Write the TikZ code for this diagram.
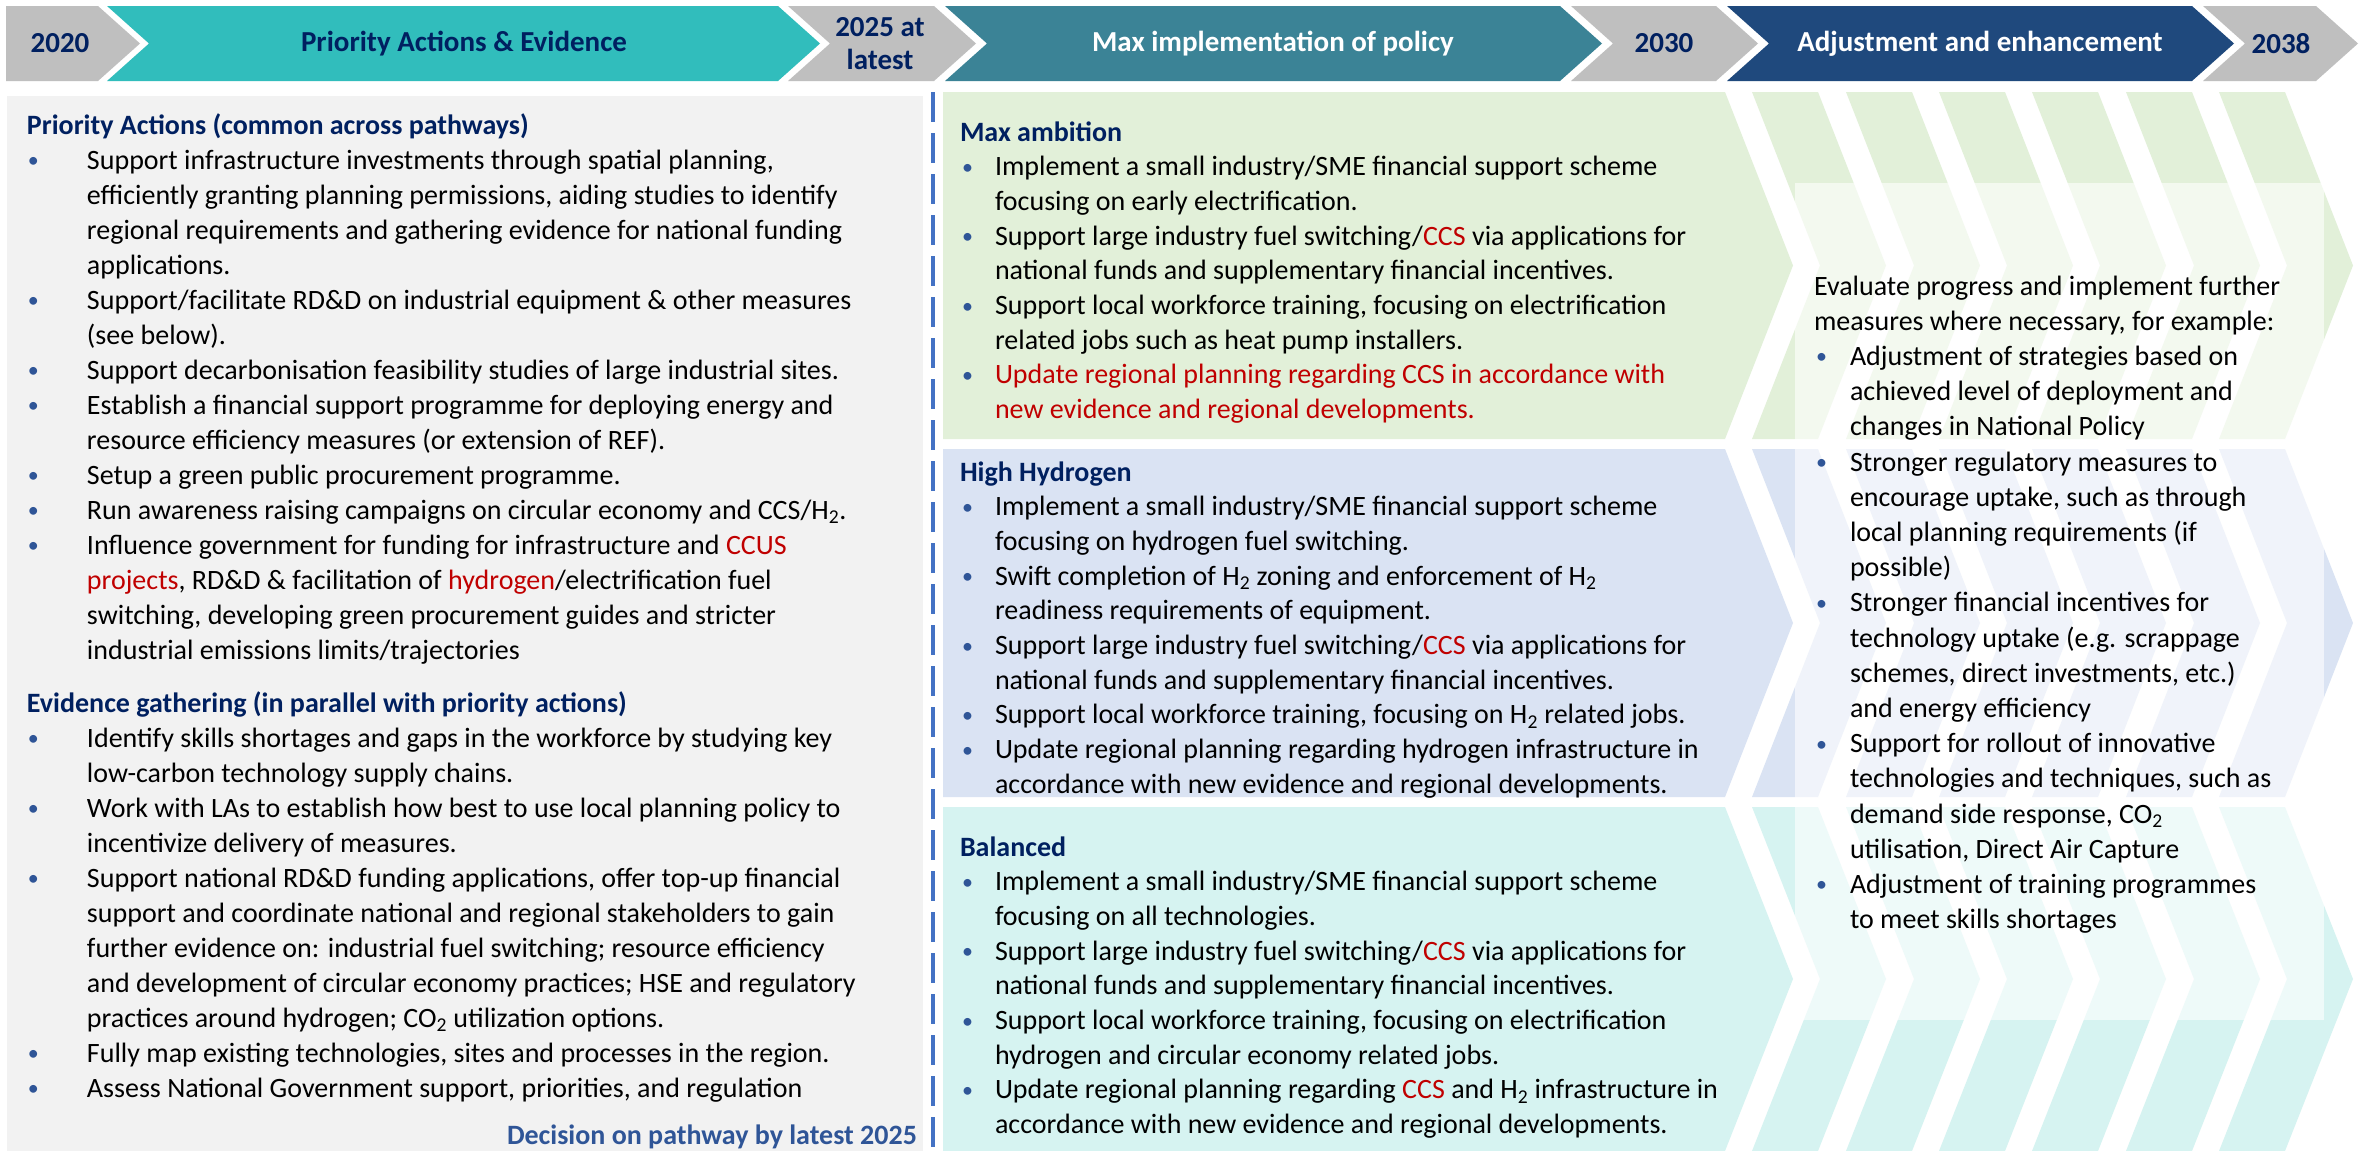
\documentclass[tikz,border=0pt]{standalone}
\usepackage{fontspec}
\setmainfont{Carlito}
\definecolor{bgray}{HTML}{BFBFBF}
\definecolor{bteal}{HTML}{31BDBC}
\definecolor{bdteal}{HTML}{3B8396}
\definecolor{bdblue}{HTML}{1F497D}
\definecolor{navy}{HTML}{002060}
\definecolor{lpanel}{HTML}{F2F2F2}
\definecolor{bgreen}{HTML}{E2F0D9}
\definecolor{bblue}{HTML}{DAE3F3}
\definecolor{blteal}{HTML}{D6F3F1}
\definecolor{bulc}{HTML}{2F5597}
\definecolor{dashc}{HTML}{4472C4}
\definecolor{redc}{HTML}{C00000}
\newcommand\bul{\raisebox{1.5pt}{\fontsize{22}{22}\selectfont\textcolor{bulc}{\textbullet}}}
\newcommand\Htwo{H\textsubscript{2}}
\newcommand\COtwo{CO\textsubscript{2}}
\newcommand\rd[1]{{\color{redc}#1}}
\newcommand\hd[1]{\noindent{\bfseries\color{navy}#1}\par}
% #1 pre-space, #2 hang, #3 text
\newcommand\itm[3]{\noindent\hangindent=#2\hangafter=1 \makebox[#2][l]{\hspace{#1}\bul}#3\par}
\newcommand\blk[3]{\vtop{\hsize=#1\parindent=0pt\parskip=0pt\rightskip=0pt plus 1fil\fontsize{28}{#2}\selectfont #3}}
\newcommand\chevN[6]{\path[#6] (#1,#3) -- (#2,#3) -- ({#2+#5},{(#3+#4)/2}) -- (#2,#4) -- (#1,#4) -- ({#1+#5},{(#3+#4)/2}) -- cycle;}
\newcommand\chevF[6]{\path[#6] (#1,#3) -- (#2,#3) -- ({#2+#5},{(#3+#4)/2}) -- (#2,#4) -- (#1,#4) -- cycle;}
\tikzset{
  txt/.style={anchor=base west, inner sep=0pt, outer sep=0pt},
  bantxt/.style={inner sep=0pt, font=\fontsize{29}{30}\selectfont\bfseries, align=center},
}
\begin{document}
\begin{tikzpicture}[x=1pt,y=-1pt]
\useasboundingbox[fill=white] (0,0) rectangle (2364,1151);
% ---------- banner ----------
\chevF{6}{98}{6}{81}{42}{fill=bgray}
\chevN{107}{778}{6}{81}{42}{fill=bteal}
\chevN{788}{934}{6}{81}{42}{fill=bgray}
\chevN{945}{1560}{6}{81}{42}{fill=bdteal}
\chevN{1571}{1716}{6}{81}{42}{fill=bgray}
\chevN{1727}{2192}{6}{81}{42}{fill=bdblue}
\chevN{2203}{2316}{6}{81}{42}{fill=bgray}
\node[bantxt, text=navy] (y2020) at (60,43.5) {2020};
\node[bantxt, text=navy] (pae) at (464,43.5) {Priority Actions \& Evidence};
\node[bantxt, text=navy, font=\fontsize{29}{33}\selectfont\bfseries] (y2025) at (880,43.5) {2025 at\\latest};
\node[bantxt, text=white] (mip) at (1273,43.5) {Max implementation of policy};
\node[bantxt, text=navy] (y2030) at (1664,43.5) {2030};
\node[bantxt, text=white] (aae) at (1980,43.5) {Adjustment and enhancement};
\node[bantxt, text=navy] (y2038) at (2281,43.5) {2038};
% ---------- left panel ----------
\fill[lpanel] (7,96) rectangle (923,1151);
\draw[dashc, line width=3.3pt, dash pattern=on 30pt off 11pt] (933,92) -- (933,1151);
% ---------- bands ----------
\foreach \T/\B/\c in {92/439/bgreen, 449/797/bblue, 807/1151/blteal}{
  \chevF{943}{1725}{\T}{\B}{68}{fill=\c}
  \foreach \L in {1752,1846,1939,2032,2126,2219}{
    \chevN{\L}{\L+66}{\T}{\B}{68}{fill=\c}
  }
}
\fill[white, fill opacity=0.6] (1795,183) rectangle (2324,1020);
% ---------- left text ----------
\node[txt] (left) at (27,134) {\blk{1000pt}{35}{%
\hd{Priority Actions (common across pathways)}
\itm{1pt}{60pt}{Support infrastructure investments through spatial planning,\\ efficiently granting planning permissions, aiding studies to identify\\ regional requirements and gathering evidence for national funding\\ applications.}
\itm{1pt}{60pt}{Support/facilitate RD\&D on industrial equipment \& other measures\\ (see below).}
\itm{1pt}{60pt}{Support decarbonisation feasibility studies of large industrial sites.}
\itm{1pt}{60pt}{Establish a financial support programme for deploying energy and\\ resource efficiency measures (or extension of REF).}
\itm{1pt}{60pt}{Setup a green public procurement programme.}
\itm{1pt}{60pt}{Run awareness raising campaigns on circular economy and CCS/\Htwo.}
\itm{1pt}{60pt}{Influence government for funding for infrastructure and \rd{CCUS}\\ \rd{projects}, RD\&D \& facilitation of \rd{hydrogen}/electrification fuel\\ switching, developing green procurement guides and stricter\\ industrial emissions limits/trajectories}
\vskip 18pt
\hd{Evidence gathering (in parallel with priority actions)}
\itm{1pt}{60pt}{Identify skills shortages and gaps in the workforce by studying key\\ low-carbon technology supply chains.}
\itm{1pt}{60pt}{Work with LAs to establish how best to use local planning policy to\\ incentivize delivery of measures.}
\itm{1pt}{60pt}{Support national RD\&D funding applications, offer top-up financial\\ support and coordinate national and regional stakeholders to gain\\ further evidence on: industrial fuel switching; resource efficiency\\ and development of circular economy practices; HSE and regulatory\\ practices around hydrogen; \COtwo{} utilization options.}
\itm{1pt}{60pt}{Fully map existing technologies, sites and processes in the region.}
\itm{1pt}{60pt}{Assess National Government support, priorities, and regulation}
}};
\node[inner sep=0pt, anchor=base east, text=bulc, font=\fontsize{28}{35}\selectfont\bfseries] (dec) at (917,1144) {Decision on pathway by latest 2025};
% ---------- middle text ----------
\node[txt] (maxamb) at (960,141) {\blk{800pt}{34.7}{%
\hd{Max ambition}
\itm{2pt}{35pt}{Implement a small industry/SME financial support scheme\\ focusing on early electrification.}
\itm{2pt}{35pt}{Support large industry fuel switching/\rd{CCS} via applications for\\ national funds and supplementary financial incentives.}
\itm{2pt}{35pt}{Support local workforce training, focusing on electrification\\ related jobs such as heat pump installers.}
\itm{2pt}{35pt}{\rd{Update regional planning regarding CCS in accordance with\\ new evidence and regional developments.}}
}};
\node[txt] (highh) at (960,481) {\blk{800pt}{34.7}{%
\hd{High Hydrogen}
\itm{2pt}{35pt}{Implement a small industry/SME financial support scheme\\ focusing on hydrogen fuel switching.}
\itm{2pt}{35pt}{Swift completion of \Htwo{} zoning and enforcement of \Htwo\\ readiness requirements of equipment.}
\itm{2pt}{35pt}{Support large industry fuel switching/\rd{CCS} via applications for\\ national funds and supplementary financial incentives.}
\itm{2pt}{35pt}{Support local workforce training, focusing on \Htwo{} related jobs.}
\itm{2pt}{35pt}{Update regional planning regarding hydrogen infrastructure in\\ accordance with new evidence and regional developments.}
}};
\node[txt] (bal) at (960,856) {\blk{800pt}{34.7}{%
\hd{Balanced}
\itm{2pt}{35pt}{Implement a small industry/SME financial support scheme\\ focusing on all technologies.}
\itm{2pt}{35pt}{Support large industry fuel switching/\rd{CCS} via applications for\\ national funds and supplementary financial incentives.}
\itm{2pt}{35pt}{Support local workforce training, focusing on electrification\\ hydrogen and circular economy related jobs.}
\itm{2pt}{35pt}{Update regional planning regarding \rd{CCS} and \Htwo{} infrastructure in\\ accordance with new evidence and regional developments.}
}};
% ---------- right text ----------
\node[txt] (evalr) at (1814,295) {\blk{560pt}{35.2}{%
\noindent Evaluate progress and implement further\\ measures where necessary, for example:\par
\itm{2pt}{36pt}{Adjustment of strategies based on\\ achieved level of deployment and\\ changes in National Policy}
\itm{2pt}{36pt}{Stronger regulatory measures to\\ encourage uptake, such as through\\ local planning requirements (if\\ possible)}
\itm{2pt}{36pt}{Stronger financial incentives for\\ technology uptake (e.g. scrappage\\ schemes, direct investments, etc.)\\ and energy efficiency}
\itm{2pt}{36pt}{Support for rollout of innovative\\ technologies and techniques, such as\\ demand side response, \COtwo\\ utilisation, Direct Air Capture}
\itm{2pt}{36pt}{Adjustment of training programmes\\ to meet skills shortages}
}};
\end{tikzpicture}
\end{document}
